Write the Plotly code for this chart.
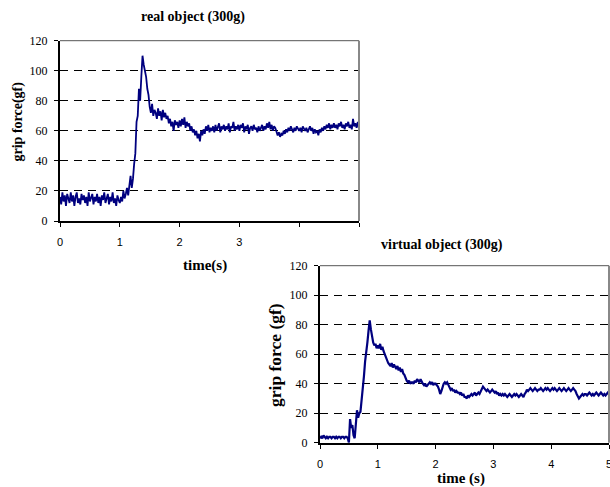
import numpy as np
import plotly.graph_objects as go

real_force = [
    16, 11, 19, 13, 17, 10, 18, 14, 12, 19,
    13, 17, 10, 16, 19, 12, 15, 11, 18, 14,
    17, 12, 16, 10, 19, 13, 15, 18, 11, 16,
    13, 18, 12, 16, 10, 17, 14, 19, 12, 15,
    18, 11, 16, 13, 19, 12, 15, 10, 17, 14,
    12, 16, 13, 20, 15, 18, 22, 17, 24, 30,
    22, 28, 38, 45, 66, 70, 88, 80, 96, 110,
    104, 100, 96, 88, 84, 76, 72, 78, 70, 74,
    72, 68, 75, 70, 73, 67, 74, 69, 72, 68,
    70, 65, 68, 63, 66, 60, 67, 64, 66, 62,
    67, 63, 68, 64, 69, 62, 66, 63, 65, 60,
    63, 59, 61, 57, 60, 55, 58, 53, 60, 57,
    61, 58, 63, 60, 64, 59, 62, 60, 63, 59,
    64, 60, 62, 65, 59, 63, 61, 64, 60, 63,
    61, 65, 59, 63, 62, 66, 60, 63, 61, 64,
    60, 64, 62, 65, 59, 63, 61, 64, 58, 62,
    63, 60, 64, 61, 62, 59, 63, 60, 62, 64,
    60, 63, 61, 65, 62, 66, 61, 64, 60, 63,
    62, 60, 57, 59, 56, 58, 57, 60, 58, 61,
    59, 62, 60, 63, 61, 59, 62, 60, 63, 61,
    60, 62, 59, 63, 61, 60, 62, 59, 61, 63,
    60, 62, 58, 61, 59, 60, 57, 61, 59, 62,
    60, 63, 61, 64, 62, 65, 61, 64, 62, 65,
    62, 64, 61, 65, 63, 66, 62, 64, 61, 65,
    63, 66, 62, 64, 61, 68, 63, 65, 62, 66,
    62,
]

virtual_force = [
    3, 4, 3, 5, 4, 3, 4, 3, 4, 4,
    3, 4, 4, 3, 4, 3, 4, 4, 3, 4,
    4, 3, 4, 4, 3, 0, 16, 10, 12, 5,
    3, 14, 22, 17, 20, 21, 28, 38, 45, 55,
    60, 68, 76, 83, 77, 72, 68, 66, 67, 64,
    66, 64, 67, 63, 65, 62, 60, 57, 55, 54,
    53, 52, 54, 51, 53, 51, 50, 52, 49, 51,
    48, 50, 47, 46, 43, 42, 41, 42, 40, 41,
    41, 40, 42, 41, 43, 42, 41, 43, 41, 40,
    39, 40, 38, 39, 40, 41, 40, 41, 39, 40,
    40, 39, 38, 36, 33, 35, 38, 40, 41, 40,
    41, 39, 37, 36, 37, 35, 36, 34, 35, 34,
    34, 33, 34, 32, 33, 31, 31, 30, 32, 31,
    32, 33, 32, 33, 34, 32, 33, 34, 33, 35,
    36, 38, 37, 36, 35, 36, 35, 34, 35, 36,
    35, 34, 35, 33, 34, 32, 33, 32, 33, 32,
    33, 32, 31, 32, 33, 32, 31, 32, 33, 32,
    33, 32, 31, 32, 33, 32, 31, 33, 34, 36,
    35, 36, 37, 36, 35, 36, 37, 36, 35, 36,
    36, 37, 36, 35, 36, 37, 36, 37, 36, 35,
    36, 37, 36, 37, 36, 35, 36, 37, 36, 35,
    36, 37, 36, 35, 36, 37, 36, 35, 36, 37,
    36, 35, 33, 31, 30, 31, 32, 33, 32, 33,
    33, 32, 33, 34, 33, 32, 33, 32, 33, 34,
    33, 32, 33, 34, 33, 32, 33, 32, 33, 34,
    33,
]

time_real = np.linspace(0, 5, len(real_force))
time_virtual = np.linspace(0, 5, len(virtual_force))

x_ticks = [0, 1, 2, 3, 4, 5]
real_x_labels = ["0", "1", "2", "3", "", ""]
virtual_x_labels = ["0", "1", "2", "3", "4", "5"]
y_ticks = [0, 20, 40, 60, 80, 100, 120]

titles = ["real object (300g)", "virtual object (300g)"]
x_titles = ["time(s)", "time (s)"]
y_titles = ["grip force(gf)", "grip force (gf)"]

# ---------------- figure ----------------
W, H = 610, 487
LINE = "#00007f"
SERIF = "Liberation Serif, Times New Roman, serif"
SANS = "Liberation Sans, Arial, sans-serif"

def px(x):
    return x / W

def py(y):
    return 1 - y / H

fig = go.Figure()
fig.add_trace(go.Scatter(x=time_real, y=real_force, mode="lines",
                         line=dict(color=LINE, width=1.8), xaxis="x", yaxis="y",
                         showlegend=False, hoverinfo="skip"))
fig.add_trace(go.Scatter(x=time_virtual, y=virtual_force, mode="lines",
                         line=dict(color=LINE, width=2.2), xaxis="x2", yaxis="y2",
                         showlegend=False, hoverinfo="skip"))

def xaxis(domain, labels, anchor):
    return dict(domain=domain, range=[0, 5], anchor=anchor, automargin=False,
                tickmode="array", tickvals=x_ticks, ticktext=labels,
                ticks="outside", ticklen=4, tickwidth=1, tickcolor="black",
                showline=True, linecolor="black", linewidth=2,
                showgrid=False, zeroline=False, ticklabelstandoff=6,
                ticklabeloverflow="allow",
                tickfont=dict(family=SANS, size=11, color="black"))

def yaxis(domain, anchor):
    return dict(domain=domain, range=[0, 120], anchor=anchor, automargin=False,
                tickmode="array", tickvals=y_ticks,
                ticks="outside", ticklen=4, tickwidth=1, tickcolor="black",
                showline=True, linecolor="black", linewidth=2,
                showgrid=True, gridcolor="black", gridwidth=1, griddash="8px,6px",
                zeroline=False, ticklabelstandoff=4,
                tickfont=dict(family=SERIF, size=12, color="black"))

fig.update_layout(
    width=W, height=H,
    margin=dict(l=0, r=0, t=0, b=0, autoexpand=False),
    paper_bgcolor="white", plot_bgcolor="white",
    xaxis=xaxis([px(60), px(359)], real_x_labels, "y"),
    yaxis=yaxis([py(221), py(40.7)], "x"),
    xaxis2=xaxis([px(320), px(609)], virtual_x_labels, "y2"),
    yaxis2=yaxis([py(442.7), py(265.7)], "x2"),
)

# top and right borders (gray)
for xr, yr in [("x domain", "y domain"), ("x2 domain", "y2 domain")]:
    fig.add_shape(type="line", xref=xr, yref=yr, x0=0, x1=1, y0=1, y1=1,
                  line=dict(color="#555555", width=1), layer="above")
    fig.add_shape(type="line", xref=xr, yref=yr, x0=1, x1=1, y0=0, y1=1,
                  line=dict(color="#888888", width=2), layer="above")

def note(text, x, y, size, angle=0):
    fig.add_annotation(text="<b>%s</b>" % text, x=px(x), y=py(y),
                       xref="paper", yref="paper", showarrow=False,
                       xanchor="center", yanchor="middle", textangle=angle,
                       font=dict(family=SERIF, size=size, color="black"))

note(titles[0], 193, 17, 14)
note(titles[1], 442, 245, 14)
note(x_titles[0], 205, 265, 15)
note(x_titles[1], 461, 478, 15)
note(y_titles[0], 17.5, 122, 14, -90)
note(y_titles[1], 275, 355, 17.5, -90)

fig.write_html(
    "out.html",
    config={"displayModeBar": False},
    post_script="document.body.style.margin='0';document.body.style.overflow='hidden';",
)
